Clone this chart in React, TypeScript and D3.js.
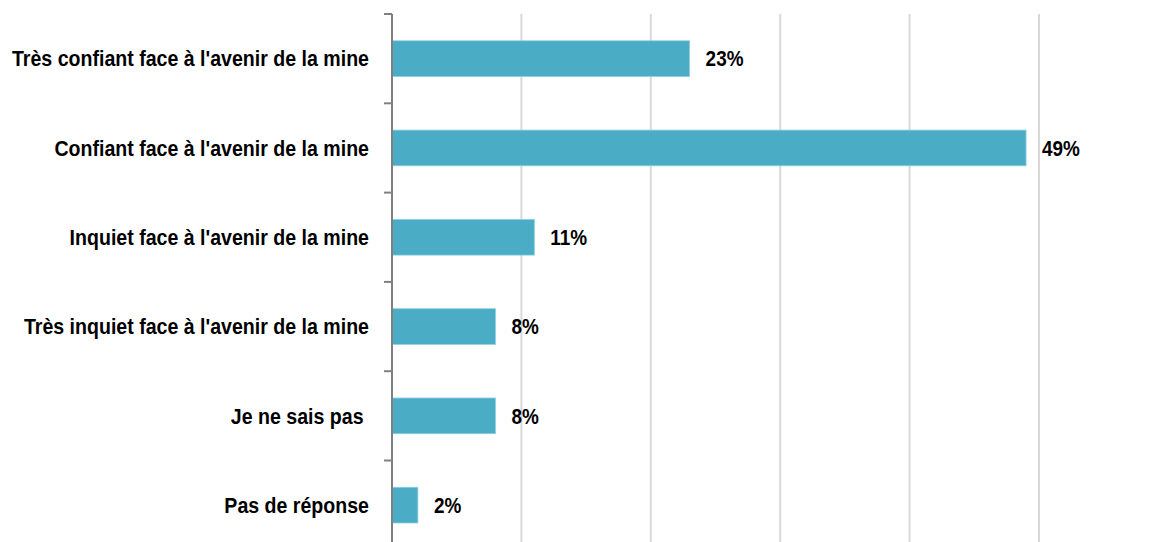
import { useEffect, useRef } from 'react';
import * as d3 from 'd3';

const categories = [
  "Très confiant face à l'avenir de la mine",
  "Confiant face à l'avenir de la mine",
  "Inquiet face à l'avenir de la mine",
  "Très inquiet face à l'avenir de la mine",
  "Je ne sais pas ",
  "Pas de réponse",
];
const values = [23, 49, 11, 8, 8, 2];
const gridTicks = [0, 10, 20, 30, 40, 50];

const W = 1155;
const H = 542;

const App = () => {
  const ref = useRef<SVGSVGElement>(null);

  useEffect(() => {
    if (!ref.current) return;
    const svg = d3.select(ref.current);
    svg.selectAll('*').remove();

    const x0 = 392;
    const xScale = d3.scaleLinear().domain([0, 50]).range([x0, 1039]);
    const step = 89.3;
    const yScale = d3.scaleBand<string>()
      .domain(categories)
      .range([14, 14 + step * categories.length])
      .paddingInner(0.6)
      .paddingOuter(0.3);

    // the original uses a narrow bold face; squeeze Liberation Sans to mimic it
    const font = "'Liberation Sans', Arial, sans-serif";
    const labelScale = 0.89;
    const valueScale = 0.86;

    // gridlines
    svg.append('g')
      .selectAll('line')
      .data(gridTicks.slice(1))
      .enter()
      .append('line')
      .attr('x1', d => xScale(d))
      .attr('x2', d => xScale(d))
      .attr('y1', 14)
      .attr('y2', H)
      .style('stroke', '#d9d9d9')
      .style('stroke-width', 2);

    // bars
    svg.append('g')
      .selectAll('rect')
      .data(values)
      .enter()
      .append('rect')
      .attr('x', x0)
      .attr('y', (d, i) => yScale(categories[i])!)
      .attr('width', d => xScale(d) - x0)
      .attr('height', yScale.bandwidth())
      .style('fill', '#4bacc6')
      .style('stroke', '#8fd0e0')
      .style('stroke-width', 0.8);

    // axis line + ticks
    svg.append('line')
      .attr('x1', x0)
      .attr('x2', x0)
      .attr('y1', 14)
      .attr('y2', H)
      .style('stroke', '#808080')
      .style('stroke-width', 2);

    const tickYs = d3.range(categories.length + 1).map(i => 14 + i * yScale.step());
    svg.append('g')
      .selectAll('line')
      .data(tickYs)
      .enter()
      .append('line')
      .attr('x1', x0 - 8)
      .attr('x2', x0)
      .attr('y1', d => d)
      .attr('y2', d => d)
      .style('stroke', '#808080')
      .style('stroke-width', 2);

    // category labels
    svg.append('g')
      .selectAll('text')
      .data(categories)
      .enter()
      .append('text')
      .attr('transform', d => `translate(369, ${yScale(d)! + yScale.bandwidth() / 2}) scale(${labelScale}, 1)`)
      .attr('dy', '0.35em')
      .attr('text-anchor', 'end')
      .attr('xml:space', 'preserve')
      .style('white-space', 'pre')
      .style('font-family', font)
      .style('font-weight', 'bold')
      .style('font-size', '22px')
      .style('fill', '#000')
      .text(d => d);

    // value labels
    svg.append('g')
      .selectAll('text')
      .data(values)
      .enter()
      .append('text')
      .attr('transform', (d, i) => `translate(${xScale(d) + 16}, ${yScale(categories[i])! + yScale.bandwidth() / 2}) scale(${valueScale}, 1)`)
      .attr('dy', '0.35em')
      .style('font-family', font)
      .style('font-weight', 'bold')
      .style('font-size', '22px')
      .style('fill', '#000')
      .text(d => `${d}%`);
  }, []);

  return (
    <svg
      ref={ref}
      width={W}
      height={H}
      style={{ position: 'absolute', top: 0, left: 0, background: '#fff' }}
    ></svg>
  );
};

export default App;
